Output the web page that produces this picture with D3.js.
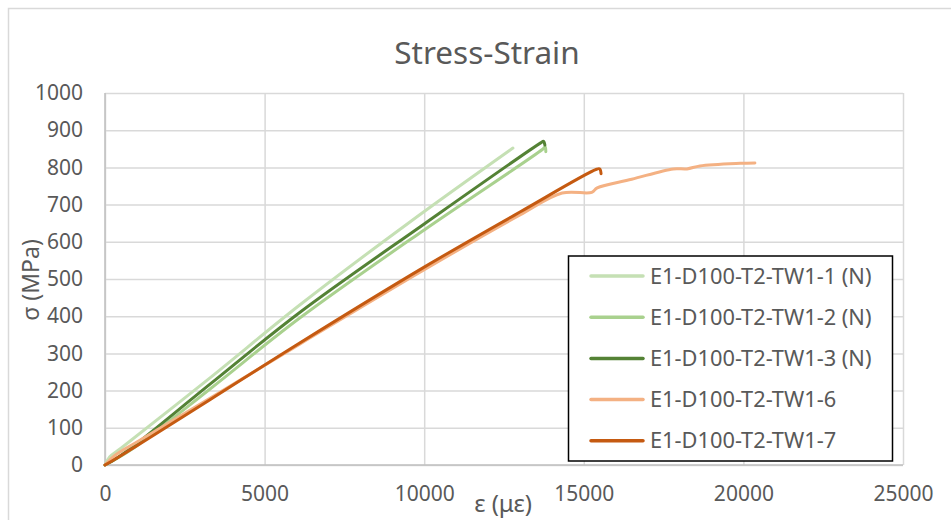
<!DOCTYPE html>
<html>
  <head>
    <meta charset="UTF-8" />
    <title>Stress-Strain</title>
    <script src="https://d3js.org/d3.v7.min.js"></script>
    <style>
      * {
        margin: 0;
        padding: 0;
        box-sizing: border-box;
      }
      body {
        background-color: #ffffff;
        overflow: hidden;
      }
      svg {
        display: block;
      }
      text {
        font-family: "Noto Sans", "Open Sans", sans-serif;
        fill: #595959;
      }
      .grid line {
        stroke: #d9d9d9;
        stroke-width: 1.5;
      }
      .series {
        fill: none;
        stroke-width: 3;
        stroke-linejoin: round;
        stroke-linecap: round;
      }
    </style>
  </head>
  <body>
    <svg id="chart" width="951" height="520"></svg>
  </body>
  <script>
    // strain (µε), stress (MPa)
    const seriesNames = [
      "E1-D100-T2-TW1-1 (N)",
      "E1-D100-T2-TW1-2 (N)",
      "E1-D100-T2-TW1-3 (N)",
      "E1-D100-T2-TW1-6",
      "E1-D100-T2-TW1-7"
    ];
    const seriesColors = ["#c5e0b4", "#a9d18e", "#548235", "#f4b183", "#c55a11"];

    const tw1_1 = [[0, 0], [150, 22], [500, 45], [3300, 235], [6100, 430], [9500, 650], [12780, 852]];
    const tw1_2 = [[0, 0], [300, 14], [1000, 52], [3300, 205], [6100, 395], [10000, 632], [13700, 848],
      [13790, 855], [13810, 842]];
    const tw1_3 = [[0, 0], [400, 20], [1000, 58], [3300, 218], [6100, 410], [10000, 648], [13650, 866],
      [13740, 870], [13780, 860]];
    const tw1_6 = [[0, 0], [300, 25], [1000, 62], [3300, 180], [6100, 325], [10000, 525], [13000, 672], [14320, 731],
      [15250, 733], [15420, 745], [16500, 768], [17800, 796], [18230, 796], [18640, 804], [19900, 811], [20360, 812]];
    const tw1_7 = [[0, 0], [300, 15], [1000, 52], [3300, 176], [6100, 328], [10000, 532], [13000, 680], [15400, 795],
      [15500, 796], [15540, 783]];
    const allSeries = [tw1_1, tw1_2, tw1_3, tw1_6, tw1_7];

    const xTicks = [0, 5000, 10000, 15000, 20000, 25000];
    const yTicks = [0, 100, 200, 300, 400, 500, 600, 700, 800, 900, 1000];

    const svg = d3.select("#chart");
    const plot = { left: 105, right: 903, top: 93, bottom: 465 };

    // chart frame
    svg.append("rect")
      .attr("x", 8.5).attr("y", 8.5)
      .attr("width", 960).attr("height", 540)
      .attr("fill", "#ffffff")
      .attr("stroke", "#d9d9d9")
      .attr("stroke-width", 1.5);

    const x = d3.scaleLinear().domain([0, 25000]).range([plot.left, plot.right]);
    const y = d3.scaleLinear().domain([0, 1000]).range([plot.bottom, plot.top]);

    // gridlines + tick labels
    const yAxis = svg.append("g")
      .attr("class", "grid")
      .attr("transform", `translate(${plot.left},0)`)
      .call(d3.axisLeft(y).tickValues(yTicks).tickFormat(d3.format("d"))
        .tickSize(-(plot.right - plot.left)).tickPadding(22));
    yAxis.select(".domain").remove();
    yAxis.selectAll("text").style("font-size", "21px").attr("fill", "#595959");

    const xAxis = svg.append("g")
      .attr("class", "grid")
      .attr("transform", `translate(0,${plot.bottom})`)
      .call(d3.axisBottom(x).tickValues(xTicks).tickFormat(d3.format("d"))
        .tickSize(-(plot.bottom - plot.top)).tickPadding(21));
    xAxis.select(".domain").remove();
    xAxis.selectAll("text").style("font-size", "21px").attr("fill", "#595959");

    // axis lines
    svg.append("line")
      .attr("x1", plot.left).attr("x2", plot.left).attr("y1", plot.top).attr("y2", plot.bottom)
      .attr("stroke", "#bfbfbf").attr("stroke-width", 1.5);
    svg.append("line")
      .attr("x1", plot.left).attr("x2", plot.right).attr("y1", plot.bottom).attr("y2", plot.bottom)
      .attr("stroke", "#bfbfbf").attr("stroke-width", 1.5);

    // lines
    const line = d3.line()
      .x((d) => x(d[0]))
      .y((d) => y(d[1]))
      .curve(d3.curveCatmullRom);

    allSeries.forEach((s, i) => {
      svg.append("path")
        .attr("class", "series")
        .attr("d", line(s))
        .attr("stroke", seriesColors[i]);
    });

    // title
    svg.append("text")
      .attr("x", 487).attr("y", 64)
      .attr("text-anchor", "middle")
      .style("font-size", "31.5px")
      .text("Stress-Strain");

    // axis titles
    svg.append("text")
      .attr("transform", "translate(39,280) rotate(-90)")
      .attr("text-anchor", "middle")
      .style("font-size", "23px")
      .text("σ (MPa)");
    svg.append("text")
      .attr("x", 503).attr("y", 512)
      .attr("text-anchor", "middle")
      .style("font-size", "24px")
      .text("ε (με)");

    // legend
    const legend = svg.append("g");
    legend.append("rect")
      .attr("x", 568.5).attr("y", 256)
      .attr("width", 324).attr("height", 205)
      .attr("fill", "#ffffff")
      .attr("stroke", "#000000")
      .attr("stroke-width", 1.5);
    seriesNames.forEach((name, i) => {
      const ly = 276 + i * 41.2;
      legend.append("line")
        .attr("x1", 591).attr("x2", 643)
        .attr("y1", ly).attr("y2", ly)
        .attr("stroke", seriesColors[i])
        .attr("stroke-width", 3.5)
        .attr("stroke-linecap", "round");
      legend.append("text")
        .attr("x", 650).attr("y", ly + 7.5)
        .style("font-size", "21.8px")
        .text(name);
    });
  </script>
</html>
